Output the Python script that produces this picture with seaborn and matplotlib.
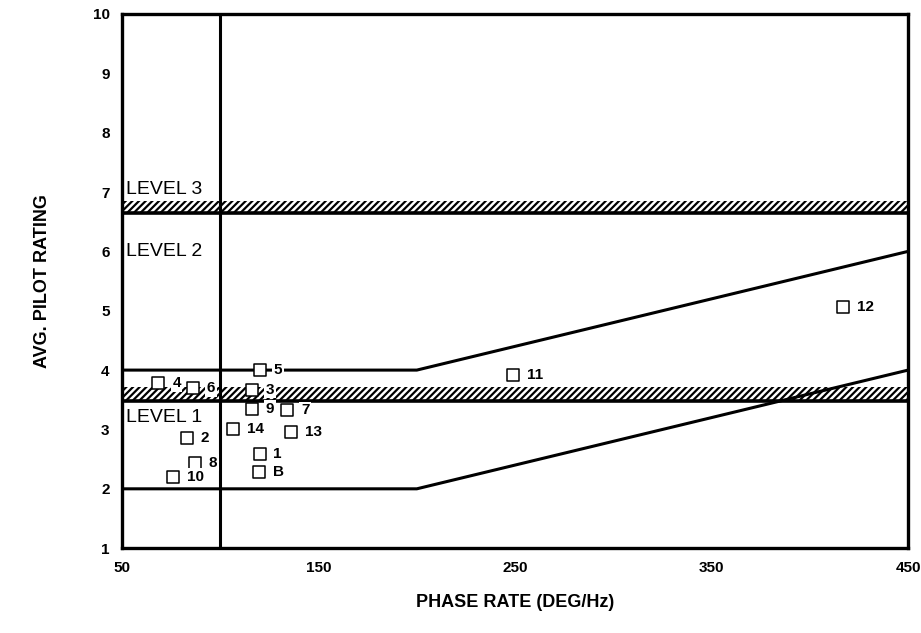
import matplotlib
matplotlib.use("Agg")
import matplotlib.pyplot as plt
import seaborn as sns
import pandas as pd
import numpy as np

# Data
point_labels = ["1", "2", "3", "4", "5", "6", "7", "8", "9", "10", "11", "12", "13", "14", "B"]
phase_rate = [120, 83, 116, 68.5, 120, 86, 134, 87, 116, 76, 249, 417, 136, 106.5, 119.5]
pilot_rating = [2.58, 2.86, 3.67, 3.78, 4.0, 3.69, 3.32, 2.44, 3.35, 2.2, 3.92, 5.07, 2.96, 3.0, 2.28]

upper_x = [50, 200, 450]
upper_y = [4.0, 4.0, 6.0]
lower_x = [50, 200, 450]
lower_y = [2.0, 2.0, 4.0]

level12_line = 3.48
level12_hatch_top = 3.72
level23_line = 6.65
level23_hatch_top = 6.85

x_ticks = [50, 100, 150, 200, 250, 300, 350, 400, 450]
x_ticklabels = ["50", "", "150", "", "250", "", "350", "", "450"]
y_ticks = [1, 2, 3, 4, 5, 6, 7, 8, 9, 10]

sns.set_style("white")
plt.rcParams['font.family'] = ['Liberation Sans', 'DejaVu Sans']
plt.rcParams['text.color'] = 'black'
plt.rcParams['axes.labelcolor'] = 'black'
plt.rcParams['xtick.color'] = 'black'
plt.rcParams['ytick.color'] = 'black'
plt.rcParams['hatch.linewidth'] = 1.6

fig = plt.figure(figsize=(9.21, 6.33), dpi=100)
ax = fig.add_axes([0.1325, 0.134, 0.8535, 0.844])

df = pd.DataFrame({"x": phase_rate, "y": pilot_rating, "label": point_labels})

# boundary lines
sns.lineplot(x=upper_x, y=upper_y, ax=ax, color="black", lw=2.2, sort=False)
sns.lineplot(x=lower_x, y=lower_y, ax=ax, color="black", lw=2.2, sort=False)

# level boundaries with hatching
ax.axhline(level12_line, color="black", lw=2.6)
ax.fill_between([50, 450], level12_line, level12_hatch_top, facecolor="none",
                edgecolor="black", hatch="/////", lw=0)
ax.axhline(level23_line, color="black", lw=2.6)
ax.fill_between([50, 450], level23_line, level23_hatch_top, facecolor="none",
                edgecolor="black", hatch="/////", lw=0)

# vertical line at 100
ax.axvline(100, color="black", lw=2.2)

# points
sns.scatterplot(data=df, x="x", y="y", ax=ax, marker="s", s=70,
                facecolor="white", edgecolor="black", linewidth=1.1, zorder=5)
for xi, yi, lab in zip(phase_rate, pilot_rating, point_labels):
    ax.annotate(lab, (xi, yi), xytext=(10, 0), textcoords="offset points",
                ha="left", va="center", fontsize=11, fontweight="bold", color="black",
                zorder=6,
                bbox=dict(boxstyle="square,pad=0.1", facecolor="white", edgecolor="none"))

# level texts
ax.text(52, 7.05, "LEVEL 3", fontsize=14, ha="left", va="center")
ax.text(52, 6.0, "LEVEL 2", fontsize=14, ha="left", va="center")
ax.text(52, 3.2, "LEVEL 1", fontsize=14, ha="left", va="center")

ax.set_xlim(50, 450)
ax.set_ylim(1, 10)
ax.set_xticks(x_ticks)
ax.set_xticklabels(x_ticklabels, fontsize=11, fontweight="bold")
ax.set_yticks(y_ticks)
ax.set_yticklabels([str(v) for v in y_ticks], fontsize=11, fontweight="bold")
ax.tick_params(axis="both", direction="out", length=6, width=2, color="black", pad=3)
for sp in ax.spines.values():
    sp.set_visible(True)
    sp.set_color("black")
    sp.set_linewidth(2.4)

ax.set_xlabel("PHASE RATE (DEG/Hz)", fontsize=13, fontweight="bold", labelpad=14)
ax.set_ylabel("AVG. PILOT RATING", fontsize=13, fontweight="bold", labelpad=30)
ax.grid(False)

fig.savefig("out.png", dpi=100)
